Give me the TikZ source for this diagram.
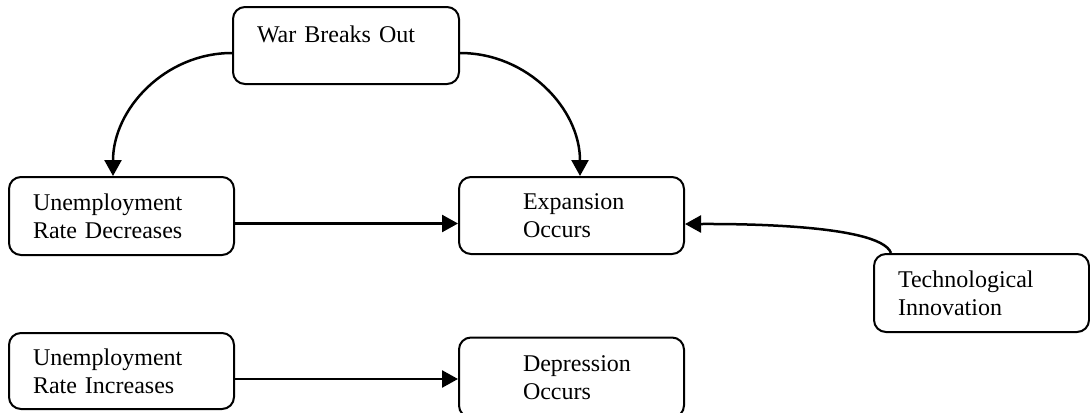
\documentclass[tikz,border=0pt]{standalone}
\usepackage{fontspec}
\setmainfont{Liberation Serif}
\usetikzlibrary{arrows.meta}
\tikzset{%
	block/.style={draw, rectangle, rounded corners=6pt, line width=1pt,%
		minimum width=112.5pt, minimum height=38.5pt, inner xsep=12pt,%
		text width=88.5pt, align=left, font=\fontsize{12pt}{13.8pt}\selectfont},
	indented/.style={inner xsep=32pt, text width=48.5pt},
	cause/.style={line width=1.25pt, -{Triangle[length=8pt, width=8.5pt]}}
}

\begin{document}
\begin{tikzpicture}[x=0.5pt, y=-0.5pt]
	\useasboundingbox (0,0) rectangle (1090,412);
	\node[block, minimum width=113pt, text width=89pt, text depth=11pt] (war) at (346,45.5) {War Breaks Out};
	\node[block, minimum height=39pt] (unempdec) at (121.5,216) {Unemployment\\Rate Decreases};
	\node[block, indented] (expansion) at (571.5,215.5) {Expansion\\Occurs};
	\node[block, minimum width=107.5pt, text width=83.5pt, minimum height=39pt] (tech) at (981.5,293) {Technological\\Innovation};
	\node[block, minimum height=38pt] (unempinc) at (121.5,371) {Unemployment\\Rate Increases};
	\node[block, indented, minimum height=40pt] (depression) at (571.5,377.5) {Depression\\Occurs};

	\coordinate (decout) at ([yshift=-3.75pt]unempdec.east);
	\coordinate (incout) at ([yshift=-4pt]unempinc.east);

	\draw[cause] ([yshift=-3.75pt]war.west) to[out=180, in=90] ([xshift=-4.25pt]unempdec.north);
	\draw[cause] ([yshift=-3.75pt]war.east) to[out=0, in=90] ([xshift=4.25pt]expansion.north);
	\draw[cause] (decout) -- (decout -| expansion.west);
	\draw[cause] ([xshift=9pt]tech.north west) to[out=110, in=0, looseness=0.4] ([yshift=-4.25pt]expansion.east);
	\draw[cause] (incout) -- (incout -| depression.west);
\end{tikzpicture}
\end{document}
